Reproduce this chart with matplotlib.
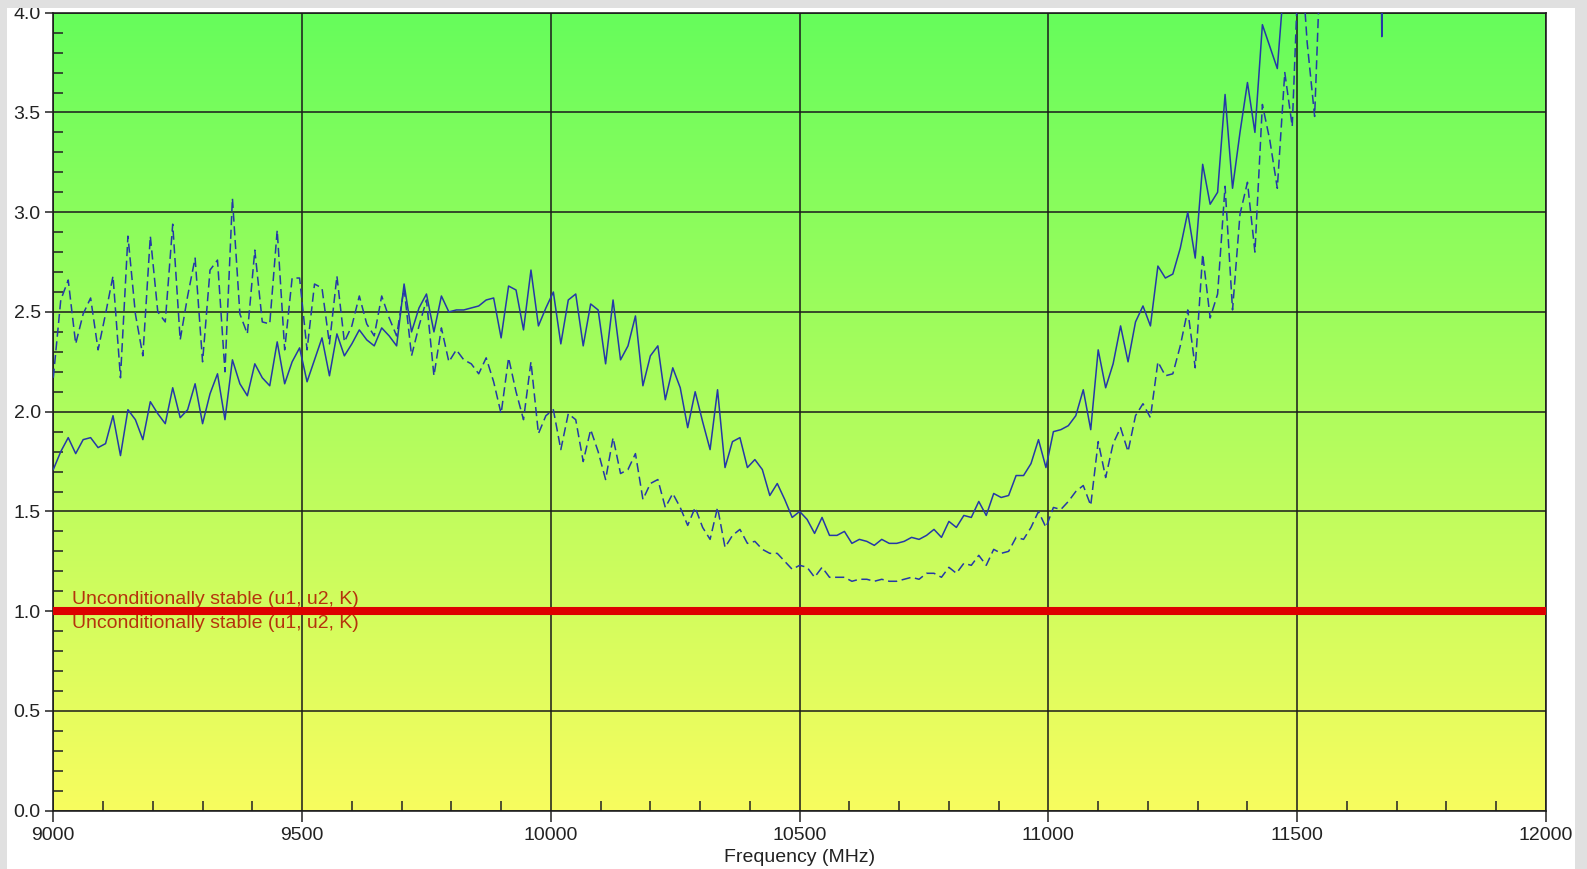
import numpy as np
import matplotlib
matplotlib.use("Agg")
import matplotlib.pyplot as plt
from matplotlib.patches import Rectangle
from matplotlib.ticker import MultipleLocator

plt.rcParams['font.family'] = ['Liberation Sans', 'DejaVu Sans']

# frequency sweep: 9000 MHz start, 15 MHz step
f_start = 9000
f_step = 15

# solid trace (values above 4.0 run off the top of the plot)
solid = [1.71, 1.80, 1.87, 1.79, 1.86, 1.87, 1.82, 1.84, 1.98, 1.78,
         2.01, 1.96, 1.86, 2.05, 1.99, 1.94, 2.12, 1.97, 2.01, 2.14,
         1.94, 2.09, 2.19, 1.96, 2.26, 2.14, 2.08, 2.24, 2.17, 2.13,
         2.35, 2.14, 2.25, 2.32,
         2.15, 2.26, 2.37, 2.18, 2.39, 2.28, 2.34, 2.41, 2.36, 2.33,
         2.42, 2.38, 2.33, 2.64, 2.40, 2.52, 2.59, 2.40, 2.58, 2.50,
         2.51, 2.51, 2.52, 2.53, 2.56, 2.57, 2.37, 2.63, 2.61, 2.41,
         2.71, 2.43, 2.52,
         2.60, 2.34, 2.56, 2.59, 2.33, 2.54, 2.51, 2.24, 2.56, 2.26,
         2.33, 2.48, 2.13, 2.28, 2.33, 2.06, 2.22, 2.12, 1.92, 2.10,
         1.95, 1.81, 2.11, 1.72, 1.85, 1.87, 1.72, 1.76, 1.71, 1.58,
         1.64, 1.56, 1.47,
         1.50, 1.46, 1.39, 1.47, 1.38, 1.38, 1.40, 1.34, 1.36, 1.35,
         1.33, 1.36, 1.34, 1.34, 1.35, 1.37, 1.36, 1.38, 1.41, 1.37,
         1.45, 1.42, 1.48, 1.47, 1.55, 1.48, 1.59, 1.57, 1.58, 1.68,
         1.68, 1.74, 1.86,
         1.72, 1.90, 1.91, 1.93, 1.98, 2.11, 1.91, 2.31, 2.12, 2.24,
         2.43, 2.25, 2.45, 2.53, 2.43, 2.73, 2.67, 2.69, 2.82, 3.00,
         2.77, 3.24, 3.04, 3.10, 3.59, 3.12, 3.40, 3.65, 3.40, 3.94,
         3.83, 3.72,
         4.2, 4.7, 5.1, 4.9, 5.4, 5.2, 5.8, 6.1, 5.7, 6.3,
         6.0, 6.6, 8.0, 3.88, 8.5, 8.2]

# dashed trace
dashed = [2.17, 2.56, 2.66, 2.34, 2.49, 2.57, 2.31, 2.49, 2.68, 2.17,
          2.88, 2.49, 2.28, 2.88, 2.50, 2.45, 2.94, 2.36, 2.58, 2.77,
          2.25, 2.71, 2.76, 2.20, 3.07, 2.49, 2.39, 2.81, 2.45, 2.44,
          2.91, 2.31, 2.67, 2.67,
          2.31, 2.64, 2.62, 2.34, 2.68, 2.35, 2.43, 2.58, 2.44, 2.38,
          2.58, 2.47, 2.38, 2.62, 2.28, 2.43, 2.56, 2.18, 2.42, 2.25,
          2.31, 2.26, 2.24, 2.19, 2.27, 2.15, 1.99, 2.27, 2.10, 1.96,
          2.25, 1.89, 1.98,
          2.01, 1.81, 1.99, 1.96, 1.75, 1.91, 1.80, 1.66, 1.87, 1.69,
          1.71, 1.79, 1.56, 1.64, 1.66, 1.52, 1.59, 1.52, 1.43, 1.52,
          1.42, 1.36, 1.52, 1.32, 1.38, 1.41, 1.34, 1.35, 1.31, 1.29,
          1.29, 1.25, 1.21,
          1.23, 1.22, 1.17, 1.22, 1.17, 1.17, 1.17, 1.15, 1.16, 1.16,
          1.15, 1.16, 1.15, 1.15, 1.16, 1.17, 1.16, 1.19, 1.19, 1.17,
          1.22, 1.19, 1.24, 1.23, 1.28, 1.23, 1.31, 1.29, 1.30, 1.37,
          1.36, 1.42, 1.50,
          1.42, 1.52, 1.51, 1.55, 1.60, 1.63, 1.53, 1.85, 1.67, 1.84,
          1.92, 1.80, 1.98, 2.04, 1.97, 2.25, 2.18, 2.19, 2.33, 2.51,
          2.22, 2.79, 2.47, 2.59, 3.13, 2.51, 2.99, 3.15, 2.80, 3.54,
          3.36, 3.12,
          3.70, 3.43, 4.4, 3.85, 3.48, 4.5, 4.9, 5.3, 5.1, 5.6,
          5.4, 5.9, 6.2, 6.0, 6.5, 6.3]

limit_value = 1.0
limit_label = "Unconditionally stable (u1, u2, K)"

freq_s = f_start + f_step * np.arange(len(solid))
freq_d = f_start + f_step * np.arange(len(dashed))

W, H = 1587, 869
fig = plt.figure(figsize=(W / 100, H / 100), dpi=100, facecolor='white')
ax = fig.add_axes([53.3 / W, 1 - 810.7 / H, (1546 - 53.3) / W, (810.7 - 12.7) / H])

# green -> yellow background gradient
top_c = np.array([0.40, 0.99, 0.36])
bot_c = np.array([0.97, 0.99, 0.37])
t = np.linspace(0, 1, 256)[:, None]
grad = (top_c * (1 - t) + bot_c * t)[:, None, :]
ax.imshow(grad, extent=[9000, 12000, 0, 4], aspect='auto', zorder=0, interpolation='bilinear')

ax.set_xlim(9000, 12000)
ax.set_ylim(0, 4)

ax.xaxis.set_major_locator(MultipleLocator(500))
ax.xaxis.set_minor_locator(MultipleLocator(100))
ax.yaxis.set_major_locator(MultipleLocator(0.5))
ax.yaxis.set_minor_locator(MultipleLocator(0.1))
ax.yaxis.set_major_formatter(plt.FormatStrFormatter('%.1f'))

ax.grid(True, which='major', color='#1a1a1a', linewidth=1.1, zorder=1)
ax.set_axisbelow(False)

ax.tick_params(axis='both', which='major', direction='out', labelsize=14, colors='#222222', pad=3)
ax.tick_params(axis='x', which='major', length=8, width=1.1, pad=4)
ax.tick_params(axis='y', which='major', length=6, width=1.1)
ax.tick_params(axis='both', which='minor', direction='in', length=7, width=1.1, colors='#222222')
ax.tick_params(top=False, right=False, which='both')
for sp in ax.spines.values():
    sp.set_color('#222222')
    sp.set_linewidth(1.2)

ax.plot(freq_s, solid, color='#2438a8', linewidth=1.1, zorder=3)
ax.plot(freq_d, dashed, color='#2438a8', linewidth=1.1, linestyle=(0, (6, 3)), zorder=3)

ax.text(9038, 1.036, limit_label, color='#b5330c', fontsize=14, va='baseline', ha='left', zorder=4)
ax.text(9038, 0.914, limit_label, color='#b5330c', fontsize=14, va='baseline', ha='left', zorder=4)
ax.axhline(limit_value, color='#dd0000', linewidth=5.8, zorder=5)

ax.set_xlabel('Frequency (MHz)', fontsize=14, color='#222222', labelpad=3)

# grey window border
gray = '#e0e0e0'
for r in [(0, 1 - 8 / H, 1, 8 / H), (0, 0, 7 / W, 1), (1575 / W, 0, 12 / W, 1)]:
    fig.patches.append(Rectangle(r[:2], r[2], r[3], transform=fig.transFigure,
                                 facecolor=gray, edgecolor='none', zorder=10))

fig.savefig('out.png', dpi=100, facecolor=fig.get_facecolor())
